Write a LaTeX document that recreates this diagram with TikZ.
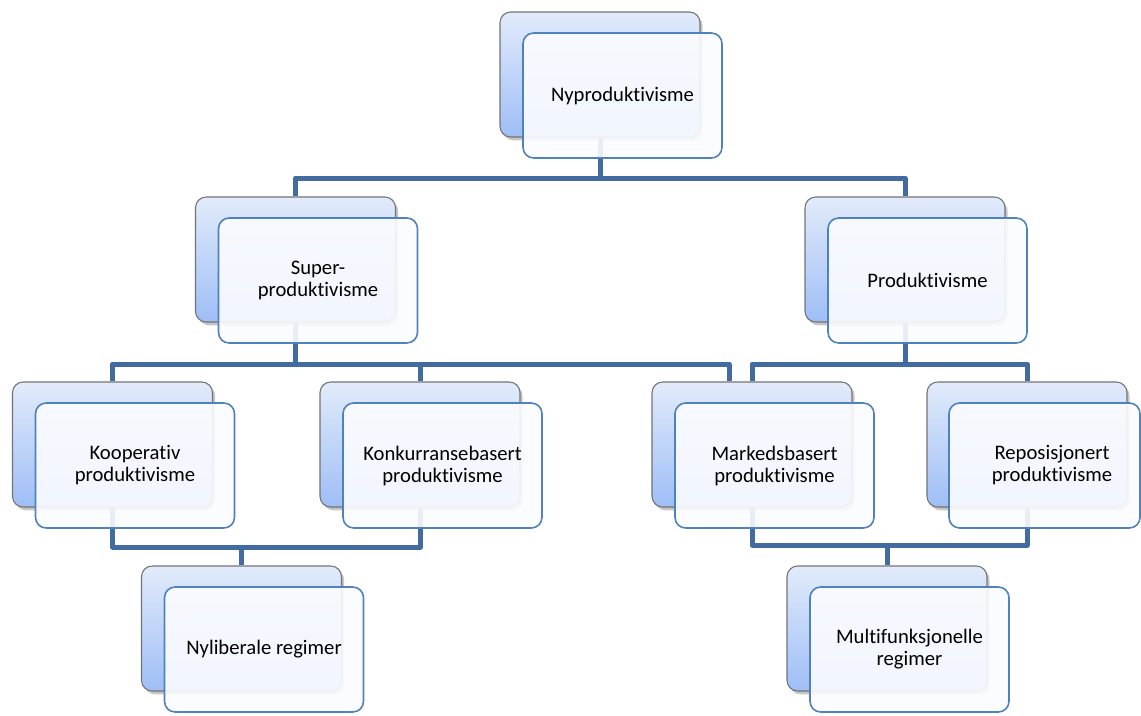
\documentclass[tikz,border=0pt]{standalone}
\usepackage{fontspec}
\setmainfont{Carlito}[Ligatures=NoCommon]
\usetikzlibrary{shadows,calc}
\definecolor{conncol}{RGB}{66,108,160}
\definecolor{backtop}{RGB}{226,235,251}
\definecolor{backbot}{RGB}{158,190,246}
\definecolor{backline}{RGB}{115,115,115}
\definecolor{frontline}{RGB}{79,129,189}
\definecolor{frontfill}{RGB}{251,252,255}
\pgfdeclarelayer{bg}
\pgfsetlayers{bg,main}
\begin{document}
\begin{tikzpicture}[x=0.75pt,y=-0.75pt,
  conn/.style={draw=conncol,line width=3.75pt,line join=round},
  backbox/.style={draw=backline,line width=0.8pt,rounded corners=8pt,
    top color=backtop,bottom color=backbot,minimum width=150pt,minimum height=93.75pt,
    inner sep=0pt,drop shadow={shadow xshift=2pt,shadow yshift=-2.5pt,opacity=0.45}},
  frontbox/.style={draw=frontline,line width=1.2pt,rounded corners=8pt,fill=frontfill,
    fill opacity=0.9,text opacity=1,minimum width=149.25pt,minimum height=93.75pt,
    inner sep=0pt,align=center,font=\fontsize{15.5}{16.5}\selectfont,text=black},
  boxtext/.style={align=center,font=\fontsize{15.5}{16.5}\selectfont,text=black}]
\useasboundingbox (0,0) rectangle (1141,715);

% level 1
\node[backbox] (top) at (600,74.5) {};
\node[frontbox] (topf) at (622.5,95.5) {Nyproduktivisme};
% level 2
\node[backbox] (super) at (295.5,259.5) {};
\node[frontbox] (superf) at (318,280.5) {Super-\\produktivisme};
\node[backbox] (prod) at (905,259.5) {};
\node[frontbox] (prodf) at (927.5,280.5) {Produktivisme};
% level 3
\node[backbox] (koop) at (112.5,444.5) {};
\node[frontbox] (koopf) at (135,465.5) {Kooperativ\\produktivisme};
\node[backbox] (konk) at (420,444.5) {};
\node[frontbox] (konkf) at (442.5,465.5) {Konkurransebasert\\produktivisme};
\node[backbox] (mark) at (752,444.5) {};
\node[frontbox] (markf) at (774.5,465.5) {Markedsbasert\\produktivisme};
\node[backbox] (repo) at (1027,444.5) {};
\node[frontbox,minimum width=143.25pt] (repof) at (1044.5,465.5) {};
\node[boxtext] (repot) at (1052,465.5) {Reposisjonert\\produktivisme};
% level 4
\node[backbox] (nylib) at (241.5,628.5) {};
\node[frontbox] (nylibf) at (264,649.5) {Nyliberale regimer};
\node[backbox] (multi) at (887,628.5) {};
\node[frontbox] (multif) at (909.5,649.5) {Multifunksjonelle\\regimer};

\coordinate (busA) at (0,178);
\coordinate (busB) at (0,364);
\coordinate (busC) at (0,547);
\coordinate (busD) at (0,545);
\coordinate (markL) at ($(mark.north)+(-23,0)$);

\begin{pgfonlayer}{bg}
\draw[conn] (top.south) -- (top.south |- busA);
\draw[conn] (super.north) -- (super.north |- busA) -- (prod.north |- busA) -- (prod.north);
\draw[conn] (super.south) -- (super.south |- busB);
\draw[conn] (koop.north) -- (koop.north |- busB) -- (markL |- busB) -- (markL);
\draw[conn] (konk.north) -- (konk.north |- busB);
\draw[conn] (prod.south) -- (prod.south |- busB);
\draw[conn] (mark.north) -- (mark.north |- busB) -- (repo.north |- busB) -- (repo.north);
\draw[conn] (koop.south) -- (koop.south |- busC) -- (konk.south |- busC) -- (konk.south);
\draw[conn] (nylib.north) -- (nylib.north |- busC);
\draw[conn] (mark.south) -- (mark.south |- busD) -- (repo.south |- busD) -- (repo.south);
\draw[conn] (multi.north) -- (multi.north |- busD);
\end{pgfonlayer}
\end{tikzpicture}
\end{document}
